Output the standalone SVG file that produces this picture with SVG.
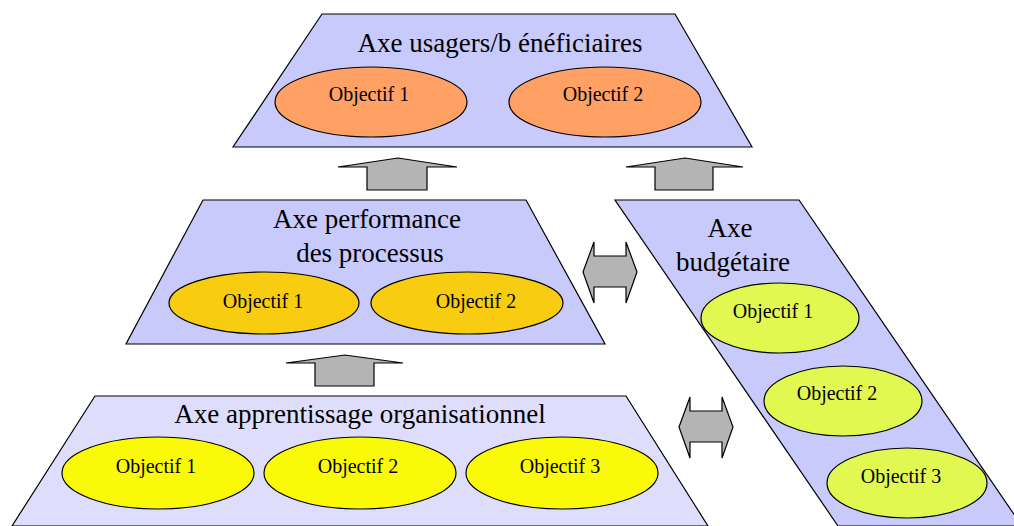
<svg xmlns="http://www.w3.org/2000/svg" width="1014" height="526" viewBox="0 0 1014 526">
<style>
.axis{fill:#c8cafb;stroke:#000;stroke-width:1.2}
.axisl{fill:#dedefc;stroke:#000;stroke-width:1.2}
.obj{stroke:#000;stroke-width:1.2}
.o1{fill:#ffa064}.o2{fill:#f8cc10}.o3{fill:#fafa08}.o4{fill:#e0f850}
.t{font-family:"Liberation Serif","Times New Roman",serif;fill:#000;text-anchor:middle}
.tt{font-size:27px}.to{font-size:20px}
.arr{fill:#b4b4b4;stroke:#000;stroke-width:1.2;stroke-linejoin:miter}
</style>
<rect width="1014" height="526" fill="#fff"/>
<g id="axe-budgetaire">
<polygon class="axis" points="615,200 799,200 1022,526 838,526"/>
<text class="t tt" x="730" y="237">Axe</text>
<text class="t tt" x="733" y="271">budgétaire</text>
<ellipse class="obj o4" cx="780" cy="318" rx="79" ry="35"/>
<text class="t to" x="773" y="318">Objectif 1</text>
<ellipse class="obj o4" cx="843" cy="401" rx="79" ry="35"/>
<text class="t to" x="837" y="400">Objectif 2</text>
<ellipse class="obj o4" cx="907" cy="483" rx="80" ry="35"/>
<text class="t to" x="901" y="483">Objectif 3</text>
</g>
<g id="axe-usagers">
<polygon class="axis" points="322,14 675,14 752,147 233,147"/>
<text class="t tt" x="500" y="52">Axe usagers/b énéficiaires</text>
<ellipse class="obj o1" cx="371" cy="102" rx="96" ry="35"/>
<text class="t to" x="369" y="101">Objectif 1</text>
<ellipse class="obj o1" cx="605" cy="102" rx="96" ry="35"/>
<text class="t to" x="603" y="101">Objectif 2</text>
</g>
<g id="axe-performance">
<polygon class="axis" points="203,200 526,200 605,344 126,344"/>
<text class="t tt" x="367" y="228">Axe performance</text>
<text class="t tt" x="370" y="262">des processus</text>
<ellipse class="obj o2" cx="264" cy="303" rx="95" ry="31"/>
<text class="t to" x="263" y="308">Objectif 1</text>
<ellipse class="obj o2" cx="467" cy="303" rx="96" ry="31"/>
<text class="t to" x="476" y="308">Objectif 2</text>
</g>
<g id="axe-apprentissage">
<polygon class="axisl" points="95,396 626,396 708,526 12,526"/>
<text class="t tt" x="360" y="423">Axe apprentissage organisationnel</text>
<ellipse class="obj o3" cx="158" cy="473" rx="96" ry="36"/>
<text class="t to" x="156" y="473">Objectif 1</text>
<ellipse class="obj o3" cx="360" cy="473" rx="96" ry="36"/>
<text class="t to" x="358" y="473">Objectif 2</text>
<ellipse class="obj o3" cx="562" cy="473" rx="96" ry="36"/>
<text class="t to" x="560" y="473">Objectif 3</text>
</g>
<g id="connectors">
<polygon class="arr" points="338,167 398,158 457,167 427,167 427,190 367,190 367,167"/>
<polygon class="arr" points="626,167 685,158 743,167 713,167 713,190 655,190 655,167"/>
<polygon class="arr" points="286,363 345,355 403,363 374,363 374,386 315,386 315,363"/>
<polygon class="arr" points="583,272 594,242 594,256 626,256 626,242 637,272 626,303 626,287 594,287 594,303"/>
<polygon class="arr" points="679,427 690,397 690,411 722,411 722,397 733,427 722,458 722,442 690,442 690,458"/>
</g>
</svg>
